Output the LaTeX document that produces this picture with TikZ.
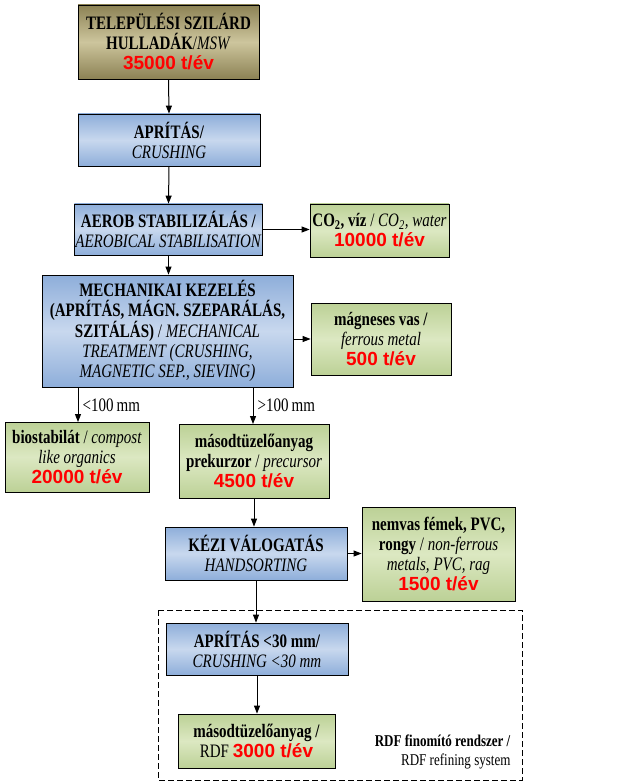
\documentclass[tikz,border=0pt]{standalone}
\usepackage{fontspec}
\setmainfont[FakeStretch=0.79]{Liberation Serif}
\newfontfamily\numfont{Liberation Sans}
\usetikzlibrary{arrows.meta}
\definecolor{numred}{HTML}{FF0000}
\newcommand{\qty}[1]{{\numfont\fontsize{19}{21}\selectfont\bfseries\color{numred}#1}}
\begin{document}
\begin{tikzpicture}[x=1pt,y=-1pt,
  bx/.style={draw=black,line width=0.8pt,align=center,inner sep=1pt,font=\fontsize{19}{20}\selectfont},
  olive/.style={bx,top color=olivedark,bottom color=olivedark,middle color=olivelight},
  blue/.style={bx,top color=bluedark,bottom color=bluedark,middle color=bluelight},
  green/.style={bx,top color=greendark,bottom color=greendark,middle color=greenlight},
  arr/.style={-{Triangle[length=8pt,width=6pt]},line width=1pt}]
\definecolor{olivedark}{HTML}{8C8254}
\definecolor{olivelight}{HTML}{CDC59D}
\definecolor{bluedark}{HTML}{8EAEDA}
\definecolor{bluelight}{HTML}{C8D8EE}
\definecolor{greendark}{HTML}{BCD196}
\definecolor{greenlight}{HTML}{DCE8C2}
\useasboundingbox[fill=white] (0,0) rectangle (642,783);
\newcommand{\bxat}[6]{\node[#1,minimum width=#4-#2,minimum height=#5-#3] (#6) at ({(#2+#4)/2},{(#3+#5)/2})}
\bxat{olive}{78}{5}{259}{79}{msw} {\textbf{TELEPÜLÉSI SZILÁRD}\\\textbf{HULLADÁK}/\textit{MSW}\\\qty{35000 t/év}};
\bxat{blue}{78}{114}{260}{166}{crush} {\textbf{APRÍTÁS/}\\\textit{CRUSHING}};
\bxat{blue}{78}{204}{259}{255}{aerob} {\textbf{AEROB STABILIZÁLÁS /}\\\textit{AEROBICAL STABILISATION}};
\bxat{green}{310}{204}{449}{257}{co2} {\textbf{CO\textsubscript{2}, víz} / \textit{CO\textsubscript{2}, water}\\\qty{10000 t/év}};
\bxat{blue}{42}{275}{293}{387}{mech} {\textbf{MECHANIKAI KEZELÉS}\\\textbf{(APRÍTÁS, MÁGN. SZEPARÁLÁS,}\\\textbf{SZITÁLÁS)} / \textit{MECHANICAL}\\\textit{TREATMENT (CRUSHING,}\\\textit{MAGNETIC SEP., SIEVING)}};
\bxat{green}{311}{303}{451}{375}{mag} {\textbf{mágneses vas /}\\\textit{ferrous metal}\\\qty{500 t/év}};
\bxat{green}{5}{422}{149}{492}{bio} {\textbf{biostabilát} / \textit{compost}\\\textit{like organics}\\\qty{20000 t/év}};
\bxat{green}{179}{424}{329}{498}{prek} {\textbf{másodtüzelőanyag}\\\textbf{prekurzor} / \textit{precursor}\\\qty{4500 t/év}};
\bxat{blue}{165}{527}{347}{580}{kezi} {\textbf{KÉZI VÁLOGATÁS}\\\textit{HANDSORTING}};
\bxat{green}{362}{507}{515}{601}{nem} {\textbf{nemvas fémek, PVC,}\\\textbf{rongy} / \textit{non-ferrous}\\\textit{metals, PVC, rag}\\\qty{1500 t/év}};
\bxat{blue}{166}{623}{348}{675}{ap30} {\textbf{APRÍTÁS <30 mm/}\\\textit{CRUSHING <30 mm}};
\bxat{green}{178}{714}{335}{768}{rdf} {\textbf{másodtüzelőanyag /}\\RDF \qty{3000 t/év}};
\draw[line width=0.8pt,dash pattern=on 6pt off 3pt] (158,610) rectangle (522,780);
\node[anchor=east,align=right,font=\fontsize{16.5}{19}\selectfont] (lbl) at (514,752) {\textbf{RDF finomító rendszer /}\\RDF refining system};
\coordinate (s1) at (78,387); \coordinate (e1) at (78,422);
\coordinate (s2) at (253,387); \coordinate (e2) at (253,424);
\draw[arr] (msw.south) -- (crush.north);
\draw[arr] (crush.south) -- (aerob.north);
\draw[arr] (aerob.south) -- (aerob.south|-mech.north);
\draw[arr] (aerob.east) -- (co2.west|-aerob.east);
\draw[arr] (mech.east|-mag.west) -- (mag.west);
\draw[arr] (s1) -- (e1);
\draw[arr] (s2) -- (e2);
\node[anchor=west,font=\fontsize{19}{18}\selectfont] (l1) at (79,405) {<100\,mm};
\node[anchor=west,font=\fontsize{19}{18}\selectfont] (l2) at (254,405) {>100\,mm};
\draw[arr] (prek.south) -- (prek.south|-kezi.north);
\draw[arr] (kezi.east) -- (nem.west|-kezi.east);
\draw[arr] (kezi.south) -- (kezi.south|-ap30.north);
\draw[arr] (ap30.south) -- (ap30.south|-rdf.north);
\end{tikzpicture}
\end{document}
